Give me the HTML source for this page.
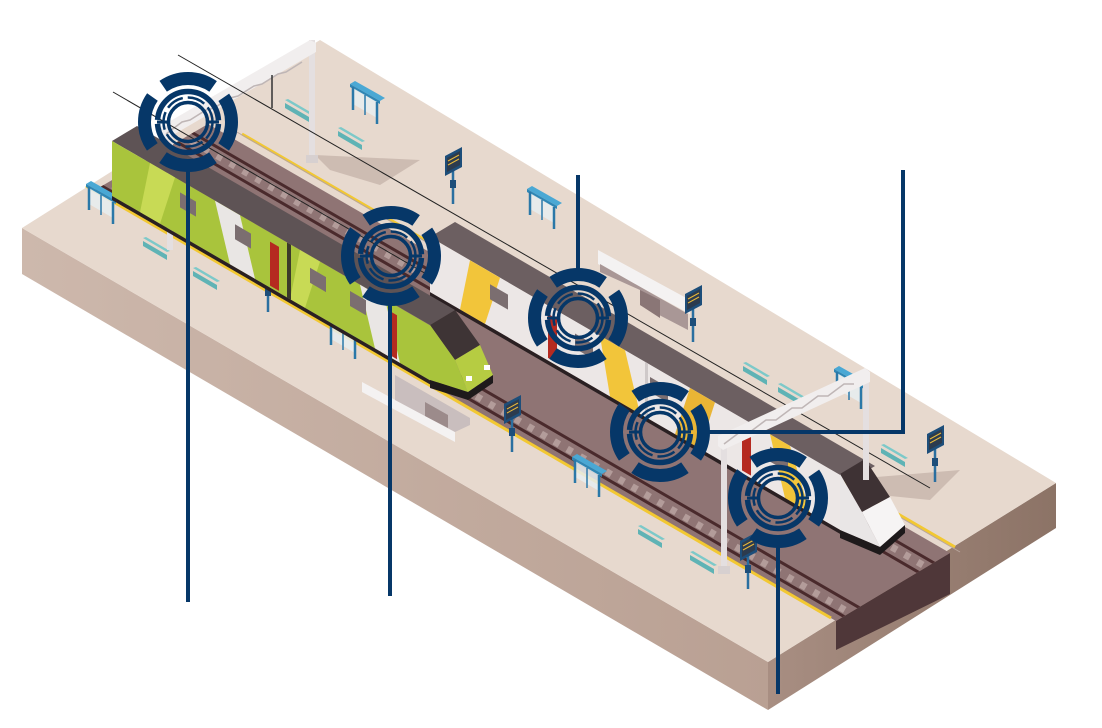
<!DOCTYPE html>
<html><head><meta charset="utf-8"><style>
html,body{margin:0;padding:0;background:#fff;}
svg{display:block;}
</style></head><body>
<svg width="1102" height="728" viewBox="0 0 1102 728" xmlns="http://www.w3.org/2000/svg">
<defs>
<linearGradient id="fl" x1="0" y1="0" x2="1" y2="0"><stop offset="0" stop-color="#cdb8ac"/><stop offset="1" stop-color="#b9a093"/></linearGradient>
<linearGradient id="fr" x1="0" y1="0" x2="1" y2="0"><stop offset="0" stop-color="#a88e82"/><stop offset="1" stop-color="#8c7366"/></linearGradient>
<clipPath id="bed"><polygon points="95,190 836,621 950,553 208,124"/></clipPath>
<g id="mk">
<circle r="43.5" fill="none" stroke="#063768" stroke-width="13" stroke-dasharray="53.1 15.2" stroke-dashoffset="26.6"/>
<circle r="30.5" fill="none" stroke="#063768" stroke-width="5.5" stroke-dasharray="91.8 4" stroke-dashoffset="-2"/>
<circle r="24.5" fill="none" stroke="#063768" stroke-width="2.5" stroke-dasharray="18 5"/>
<circle r="19.5" fill="none" stroke="#063768" stroke-width="3.5"/>
<line x1="-31" y1="0" x2="-19" y2="0" stroke="#063768" stroke-width="3"/>
<line x1="19" y1="0" x2="31" y2="0" stroke="#063768" stroke-width="3"/>
</g>
<g id="shelter">
<polygon points="-14,-26 16,-9 21,-12 -9,-29" fill="#4aa8d4"/>
<polygon points="-14,-26 16,-9 16,-6 -14,-23" fill="#2f86b4"/>
<polygon points="-11,-22 13,-8 13,8 -11,-6" fill="#e6edf0" opacity=".85"/>
<line x1="-11" y1="-23" x2="-11" y2="0" stroke="#2a78a8" stroke-width="2.5"/>
<line x1="13" y1="-8" x2="13" y2="14" stroke="#2a78a8" stroke-width="2.5"/>
<line x1="1" y1="-15" x2="1" y2="5" stroke="#2a78a8" stroke-width="1.5"/>
</g>
<g id="bench">
<polygon points="-12,-7 12,7 12,12 -12,-2" fill="#5fb3b5"/>
<polygon points="-12,-10 -9,-11 15,3 12,4" fill="#7cc9c9"/>
</g>
<g id="sign">
<line x1="0" y1="0" x2="0" y2="42" stroke="#2a6fa0" stroke-width="2.5"/>
<polygon points="-8,-6 9,-15 9,5 -8,14" fill="#1d4e7a"/>
<polygon points="-6,-4 7,-11 7,3 -6,10" fill="#2c3b4e"/>
<line x1="-5" y1="-1" x2="6" y2="-7" stroke="#e8b83a" stroke-width="1"/>
<line x1="-5" y1="3" x2="6" y2="-3" stroke="#e8b83a" stroke-width="1"/>
<rect x="-3" y="18" width="6" height="8" fill="#1d4e7a"/>
</g>
</defs>

<!-- slab -->
<polygon points="22,228 768,662 768,710 22,274" fill="url(#fl)"/>
<polygon points="768,662 1056,483 1056,528 768,710" fill="url(#fr)"/>
<polygon points="22,228 320,40 1056,483 768,662" fill="#e7d9ce"/>
<!-- pit -->
<polygon points="836,621 950,553 950,594 836,650" fill="#4f3739"/>
<!-- track bed -->
<polygon points="95,190 836,621 950,553 208,124" fill="#8f7474"/>
<g clip-path="url(#bed)">
 <g stroke="#b39c9a" stroke-width="7" stroke-dasharray="6 9">
  <line x1="100" y1="178" x2="900" y2="642"/>
  <line x1="178" y1="133" x2="978" y2="597"/>
 </g>
 <g stroke="#4a2a2c" stroke-width="3">
  <line x1="95" y1="182" x2="900" y2="649"/>
  <line x1="110" y1="173" x2="915" y2="640"/>
  <line x1="170" y1="138" x2="975" y2="605"/>
  <line x1="186" y1="129" x2="991" y2="596"/>
 </g>
</g>
<line x1="86" y1="186" x2="831" y2="618" stroke="#f2c832" stroke-width="3"/>
<line x1="242" y1="134" x2="955" y2="547" stroke="#f2c832" stroke-width="3"/>
<line x1="230" y1="128" x2="960" y2="552" stroke="#b8a59c" stroke-width="1"/>

<g fill="#c2afa6" opacity=".7">
<polygon points="315,155 420,160 380,185 330,170"/>
<polygon points="865,478 960,470 930,500 880,495"/>
</g>

<!-- stair openings -->
<polygon points="598,250 690,300 690,314 598,264" fill="#f4f2f2"/>
<polygon points="600,264 688,314 688,330 640,305 640,290 600,272" fill="#a99796"/>
<polygon points="640,290 660,300 660,318 640,305" fill="#8a7676"/>
<polygon points="362,382 455,432 455,442 362,392" fill="#f4f2f2"/>
<polygon points="395,375 470,418 470,425 455,432 395,400" fill="#c9bebe"/>
<polygon points="425,402 448,415 448,428 425,416" fill="#9c8b8b"/>

<!-- furniture -->
<use href="#shelter" x="100" y="210"/>
<use href="#shelter" x="364" y="110"/>
<use href="#shelter" x="541" y="215"/>
<use href="#shelter" x="342" y="345"/>
<use href="#shelter" x="586" y="483"/>
<use href="#shelter" x="848" y="395"/>
<use href="#bench" x="297" y="110"/>
<use href="#bench" x="350" y="138"/>
<use href="#bench" x="155" y="248"/>
<use href="#bench" x="205" y="278"/>
<use href="#bench" x="650" y="536"/>
<use href="#bench" x="702" y="562"/>
<use href="#bench" x="755" y="373"/>
<use href="#bench" x="790" y="394"/>
<use href="#bench" x="893" y="455"/>
<use href="#sign" x="453" y="162"/>
<use href="#sign" x="268" y="270"/>
<use href="#sign" x="512" y="410"/>
<use href="#sign" x="693" y="300"/>
<use href="#sign" x="935" y="440"/>
<use href="#sign" x="748" y="547"/>

<!-- gantry 1 -->
<rect x="309" y="40" width="6" height="122" fill="#e4dfe0"/>
<rect x="306" y="155" width="12" height="8" fill="#d7d0d0"/>
<rect x="167" y="130" width="6" height="120" fill="#e4dfe0"/>
<polygon points="160,127 310,40 316,43 316,52 166,139 160,136" fill="#f1eeee"/>
<polyline points="166,134 182,122 190,120 206,110 214,108 230,98 238,96 254,86 262,84 278,74 286,72 302,62" fill="none" stroke="#bfb6b6" stroke-width="1.5"/>
<line x1="272" y1="75" x2="272" y2="108" stroke="#333" stroke-width="1.5"/>
<line x1="178" y1="55" x2="930" y2="488" stroke="#222" stroke-width="1"/>
<line x1="113" y1="92" x2="440" y2="282" stroke="#222" stroke-width="1"/>

<!-- yellow/white train -->
<polygon points="430,237 850,481 875,466 455,222" fill="#6c5f61"/>
<g transform="matrix(1,0.58,0,1,0,0)">
 <rect x="430" y="-12.3" width="410" height="55" fill="#ece7e6"/>
 <polygon points="470,-12.3 500,-12.3 485,42.7 460,42.7" fill="#f2c53a"/>
 <polygon points="600,-12.3 625,-12.3 640,42.7 610,42.7" fill="#f2c53a"/>
 <polygon points="690,-12.3 715,-12.3 700,42.7 675,42.7" fill="#e9b535"/>
 <polygon points="770,-12.3 790,-12.3 810,42.7 785,42.7" fill="#f2c53a"/>
 <rect x="548" y="-4" width="9" height="44" fill="#b52a20"/>
 <rect x="742" y="-4" width="9" height="44" fill="#b52a20"/>
 <rect x="490" y="0" width="18" height="15" fill="#7b6e70"/>
 <rect x="575" y="0" width="18" height="15" fill="#7b6e70"/>
 <rect x="650" y="0" width="18" height="15" fill="#7b6e70"/>
 <rect x="770" y="0" width="18" height="15" fill="#7b6e70"/>
 <rect x="430" y="42.7" width="410" height="4" fill="#2a2022"/>
 <rect x="645" y="-12.3" width="3" height="55" fill="#cfc9c9"/>
</g>
<polygon points="840,474 865,459 890,497 862,512" fill="#3e3234"/>
<polygon points="840,474 862,512 880,547 840,530" fill="#e9e6e6"/>
<polygon points="862,512 890,497 905,525 880,547" fill="#f6f4f4"/>
<polygon points="840,530 880,547 905,525 905,533 880,555 840,538" fill="#1e1a1b"/>

<!-- green train -->
<polygon points="112,141 430,325 455,310 137,126" fill="#5e5355"/>
<g transform="matrix(1,0.58,0,1,0,0)">
 <rect x="112" y="76" width="318" height="55" fill="#a9c43c"/>
 <polygon points="150,76 175,76 160,131 140,131" fill="#c8da55"/>
 <polygon points="215,76 240,76 255,131 230,131" fill="#e9e6e4"/>
 <polygon points="300,76 320,76 305,131 290,131" fill="#c8da55"/>
 <polygon points="360,76 385,76 400,131 375,131" fill="#e9e6e4"/>
 <rect x="270" y="85" width="9" height="44" fill="#b52a20"/>
 <rect x="388" y="85" width="9" height="44" fill="#b52a20"/>
 <rect x="180" y="88" width="16" height="15" fill="#7b6e70"/>
 <rect x="235" y="88" width="16" height="15" fill="#7b6e70"/>
 <rect x="310" y="88" width="16" height="15" fill="#7b6e70"/>
 <rect x="350" y="88" width="16" height="15" fill="#7b6e70"/>
 <rect x="112" y="131" width="318" height="4" fill="#2a2022"/>
 <rect x="287" y="76" width="4" height="55" fill="#3c3a2a"/>
</g>
<polygon points="430,325 455,310 480,345 455,360" fill="#3e3435"/>
<polygon points="430,325 455,360 468,392 430,380" fill="#a9c43c"/>
<polygon points="455,360 480,345 493,375 468,392" fill="#b6cc42"/>
<polygon points="430,380 468,392 493,375 493,383 468,400 430,388" fill="#1e1a1b"/>
<rect x="466" y="376" width="6" height="5" fill="#fff"/>
<rect x="484" y="365" width="6" height="5" fill="#fff"/>

<!-- gantry 2 -->
<rect x="863" y="370" width="6" height="110" fill="#e4dfe0"/>
<rect x="721" y="438" width="6" height="135" fill="#e4dfe0"/>
<rect x="718" y="566" width="12" height="8" fill="#d7d0d0"/>
<polygon points="718,436 865,368 870,372 870,382 723,450 718,446" fill="#f1eeee"/>
<polyline points="724,444 740,432 750,432 766,420 776,420 792,408 802,408 818,396 828,396 844,384 854,384" fill="none" stroke="#bfb6b6" stroke-width="1.5"/>

<!-- connector lines -->
<g stroke="#063768" stroke-width="4" fill="none">
<line x1="188" y1="165" x2="188" y2="602"/>
<line x1="390" y1="300" x2="390" y2="596"/>
<line x1="578" y1="175" x2="578" y2="274"/>
<polyline points="704,432 903,432 903,170"/>
<line x1="778" y1="542" x2="778" y2="694"/>
</g>

<use href="#mk" x="188" y="122"/>
<use href="#mk" x="391" y="256"/>
<use href="#mk" x="578" y="318"/>
<use href="#mk" x="660" y="432"/>
<use href="#mk" x="778" y="498"/>
</svg>
</body></html>
